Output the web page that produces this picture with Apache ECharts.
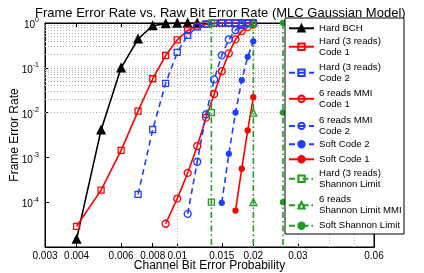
<!DOCTYPE html>
<html><head><meta charset="utf-8">
<script src="https://cdn.jsdelivr.net/npm/echarts@6/dist/echarts.min.js"></script>
<style>html,body{margin:0;padding:0;background:#fff}#c{width:424px;height:273px}</style>
</head><body><div id="c"></div>
<script>
// ---- data ----
const titleText = 'Frame Error Rate vs. Raw Bit Error Rate (MLC Gaussian Model)';
const xName = 'Channel Bit Error Probability';
const yName = 'Frame Error Rate';
const xTicks = [0.003, 0.004, 0.006, 0.008, 0.01, 0.015, 0.02, 0.03, 0.06];
const xGridVals = [0.004, 0.005, 0.006, 0.007, 0.008, 0.009, 0.01, 0.015, 0.02, 0.03, 0.04, 0.05];
const yGridVals = [2e-5,3e-5,4e-5,5e-5,6e-5,7e-5,8e-5,9e-5,1e-4,2e-4,3e-4,4e-4,5e-4,6e-4,7e-4,8e-4,9e-4,1e-3,2e-3,3e-3,4e-3,5e-3,6e-3,7e-3,8e-3,9e-3,1e-2,2e-2,3e-2,4e-2,5e-2,6e-2,7e-2,8e-2,9e-2,0.1,0.2,0.3,0.4,0.5,0.6,0.7,0.8,0.9];

const bchX = [0.004, 0.005, 0.006, 0.007, 0.008, 0.009, 0.010, 0.011, 0.012];
const bchY = [1.5e-5, 4.1e-3, 0.1, 0.44, 0.87, 0.97, 1, 1, 1];

const hard1X = [0.004, 0.005, 0.006, 0.007, 0.008, 0.009, 0.010, 0.011, 0.012, 0.013, 0.014, 0.015, 0.016, 0.017, 0.018, 0.019, 0.020];
const hard1Y = [2.9e-5, 1.86e-4, 1.43e-3, 1.08e-2, 0.057, 0.188, 0.42, 0.68, 0.85, 0.93, 0.98, 1, 1, 1, 1, 1, 1];

const hard2X = [0.007, 0.008, 0.009, 0.010, 0.011, 0.012, 0.013, 0.014, 0.015, 0.016, 0.017, 0.018, 0.019, 0.020];
const hard2Y = [1.49e-4, 4.2e-3, 0.045, 0.22, 0.53, 0.82, 0.95, 0.99, 1, 1, 1, 1, 1, 1];

const mmi1X = [0.009, 0.010, 0.011, 0.012, 0.013, 0.014, 0.015, 0.016, 0.017, 0.018, 0.019, 0.020];
const mmi1Y = [3.3e-5, 1.2e-4, 4.5e-4, 1.8e-3, 7.7e-3, 0.026, 0.084, 0.21, 0.43, 0.66, 0.82, 0.93];

const mmi2X = [0.011, 0.012, 0.013, 0.014, 0.015, 0.016, 0.017, 0.018, 0.019, 0.020];
const mmi2Y = [5.5e-5, 8e-4, 9.1e-3, 0.055, 0.19, 0.43, 0.69, 0.9, 0.98, 1];

const soft2X = [0.015, 0.016, 0.017, 0.018, 0.019, 0.020];
const soft2Y = [9.7e-5, 1.2e-3, 0.01, 0.053, 0.176, 0.39];

const soft1X = [0.017, 0.018, 0.019, 0.020];
const soft1Y = [6.5e-5, 5.6e-4, 4e-3, 0.022];

const shHardX = [0.01365, 0.01365, 0.01365, 0.01365];
const shMmiX = [0.0200, 0.0200, 0.0200, 0.0200];
const shSoftX = [0.0262, 0.0262, 0.0262, 0.0262];
const shY = [1, 1e-2, 1e-4, 1e-6];

const names = ['Hard BCH', 'Hard (3 reads)\nCode 1', 'Hard (3 reads)\nCode 2', '6 reads MMI\nCode 1', '6 reads MMI\nCode 2',
  'Soft Code 2', 'Soft Code 1', 'Hard (3 reads)\nShannon Limit', '6 reads\nShannon Limit MMI', 'Soft Shannon Limit'];

// ---- layout / style ----
const FONT = '"Liberation Sans", Arial, Helvetica, sans-serif';
const RED = '#ff0000', BLUE = '#1f3fff', GREEN = '#1e9e1e', BLACK = '#000000';
const DASH = [6, 4], DASHDOT = [6, 3, 1.5, 3];
const legendCenters = [28.3, 46.7, 72.7, 98.8, 125.9, 144.3, 159.3, 178.8, 205.3, 225.7];
const LH = 11;

function pts(xs, ys) { return xs.map((x, i) => [x, ys[i]]); }
function mk(name, xs, ys, color, dash, symbol, size, filled) {
  return {
    name, type: 'line', data: pts(xs, ys), symbol, symbolSize: size, showAllSymbol: true,
    clip: true, animation: false,
    lineStyle: { color, width: 1.6, type: dash },
    itemStyle: { color: filled ? color : 'rgba(255,255,255,0)', borderColor: color, borderWidth: 1.3 }
  };
}

const series = [
  mk(names[0], bchX, bchY, BLACK, 'solid', 'triangle', 8, true),
  mk(names[1], hard1X, hard1Y, RED, 'solid', 'rect', 6, false),
  mk(names[2], hard2X, hard2Y, BLUE, DASH, 'rect', 6, false),
  mk(names[3], mmi1X, mmi1Y, RED, 'solid', 'circle', 7, false),
  mk(names[4], mmi2X, mmi2Y, BLUE, DASH, 'circle', 7, false),
  mk(names[5], soft2X, soft2Y, BLUE, DASH, 'circle', 5, true),
  mk(names[6], soft1X, soft1Y, RED, 'solid', 'circle', 5, true),
  mk(names[7], shHardX, shY, GREEN, DASHDOT, 'rect', 6, false),
  mk(names[8], shMmiX, shY, GREEN, DASHDOT, 'triangle', 7, false),
  mk(names[9], shSoftX, shY, GREEN, DASHDOT, 'circle', 5, true)
];
series.unshift({
  name: '_grid', type: 'line', data: [], z: 1, silent: true, animation: false,
  markLine: {
    silent: true, symbol: 'none', label: { show: false }, animation: false, z: 1,
    lineStyle: { color: '#b4b4b4', width: 1, type: [1, 2] },
    data: xGridVals.map(v => ({ xAxis: v })).concat(yGridVals.map(v => ({ yAxis: v })))
  }
});

const legends = names.map((n, i) => {
  const lines = n.split('\n').length;
  return {
    data: [n], orient: 'vertical', left: 288, top: legendCenters[i] - lines * LH / 2,
    padding: 0, itemWidth: 25, itemHeight: 8, z: 20, selectedMode: false,
    textStyle: { fontFamily: FONT, fontSize: 9.6, color: '#000', lineHeight: LH }
  };
});

const fmtX = v => String(Number(Number(v).toPrecision(3)));
const axisCommon = {
  axisLine: { show: true, lineStyle: { color: '#000', width: 1 } },
  splitLine: { show: false }
};

const option = {
  backgroundColor: '#fff',
  animation: false,
  title: { text: titleText, left: 30, top: 2, textStyle: { fontFamily: FONT, fontSize: 13, fontWeight: 'normal', color: '#000' } },
  grid: { left: 45, right: 50, top: 23, bottom: 26, show: true, borderColor: '#000', borderWidth: 1, backgroundColor: '#fff', containLabel: false, outerBoundsMode: 'none' },
  graphic: [{ type: 'rect', z: 10, shape: { x: 285, y: 18, width: 119, height: 216 }, style: { fill: '#fff', stroke: '#000', lineWidth: 1 } }],
  legend: legends,
  xAxis: [
    Object.assign({}, axisCommon, {
      type: 'log', logBase: 10, min: 0.003, max: 0.06,
      name: xName, nameLocation: 'middle', nameGap: 13, nameMoveOverlap: false,
      nameTextStyle: { fontFamily: FONT, fontSize: 12, color: '#000' },
      axisTick: { show: true, inside: true, length: 4, lineStyle: { color: '#000' }, customValues: xTicks },
      axisLabel: { show: true, customValues: xTicks, formatter: fmtX, fontFamily: FONT, fontSize: 10, color: '#000', margin: 4 }
    }),
    Object.assign({}, axisCommon, {
      type: 'log', logBase: 10, min: 0.003, max: 0.06, position: 'top',
      axisTick: { show: true, inside: true, length: 4, lineStyle: { color: '#000' }, customValues: xTicks },
      axisLabel: { show: false }
    })
  ],
  yAxis: [
    Object.assign({}, axisCommon, {
      type: 'log', logBase: 10, min: 1e-5, max: 1,
      name: yName, nameLocation: 'middle', nameGap: 24, nameMoveOverlap: false,
      nameTextStyle: { fontFamily: FONT, fontSize: 12, color: '#000' },
      axisTick: { show: true, inside: true, length: 4, lineStyle: { color: '#000' } },
      axisLabel: {
        show: true, margin: 6, color: '#000',
        formatter: v => { const n = Math.round(Math.log10(v)); return n < -4 ? '' : '{b|10}{s|' + n + '}'; },
        rich: {
          b: { fontFamily: FONT, fontSize: 10, color: '#000', padding: [5, 0, 0, 0] },
          s: { fontFamily: FONT, fontSize: 7, color: '#000', padding: [0, 0, 5, 0] }
        }
      }
    }),
    Object.assign({}, axisCommon, {
      type: 'log', logBase: 10, min: 1e-5, max: 1, position: 'right',
      axisTick: { show: true, inside: true, length: 4, lineStyle: { color: '#000' } },
      axisLabel: { show: false }
    })
  ],
  series
};

const chart = echarts.init(document.getElementById('c'), null, { renderer: 'canvas' });
chart.setOption(option);
</script>
</body></html>
